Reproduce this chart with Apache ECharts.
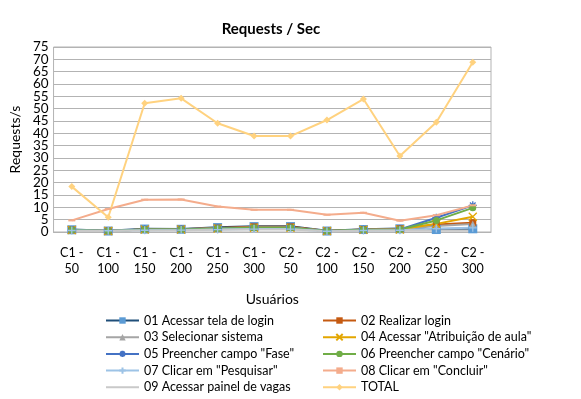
<!DOCTYPE html>
<html>
<head>
<meta charset="utf-8">
<script src="https://cdn.jsdelivr.net/npm/echarts@6/dist/echarts.min.js"></script>
<style>
  html, body { margin: 0; padding: 0; background: #fff; }
  #chart { width: 581px; height: 399px; }
</style>
</head>
<body>
<div id="chart"></div>
<script>
// categorias (eixo X)
const categories = [
    'C1 -\n50', 'C1 -\n100', 'C1 -\n150', 'C1 -\n200', 'C1 -\n250', 'C1 -\n300',
    'C2 -\n50', 'C2 -\n100', 'C2 -\n150', 'C2 -\n200', 'C2 -\n250', 'C2 -\n300'
];

const names = [
    '01 Acessar tela de login',
    '02 Realizar login',
    '03 Selecionar sistema',
    '04 Acessar "Atribuição de aula"',
    '05 Preencher campo "Fase"',
    '06 Preencher campo "Cenário"',
    '07 Clicar em "Pesquisar"',
    '08 Clicar em "Concluir"',
    '09 Acessar painel de vagas',
    'TOTAL'
];

// valores
const s01 = [0.9, 0.4, 1.2, 1.1, 1.8, 2.2, 2.2, 0.4, 1.0, 1.3, 1.0, 1.3];
const s02 = [0.8, 0.4, 1.0, 1.1, 1.6, 2.1, 2.1, 0.4, 1.0, 1.3, 3.0, 3.8];
const s03 = [0.8, 0.4, 1.0, 1.1, 1.5, 1.8, 1.8, 0.4, 0.9, 1.1, 2.4, 3.2];
const s04 = [0.8, 0.4, 1.0, 1.0, 1.4, 1.7, 1.7, 0.4, 0.9, 1.0, 3.3, 6.2];
const s05 = [0.8, 0.4, 1.0, 1.0, 1.4, 1.7, 1.7, 0.4, 0.9, 1.0, 5.8, 10.8];
const s06 = [0.8, 0.4, 1.0, 1.0, 1.4, 1.7, 1.7, 0.4, 0.9, 1.0, 4.7, 9.8];
const s07 = [0.6, 0.5, 0.7, 0.8, 1.0, 1.2, 1.2, 0.3, 0.6, 0.7, 1.4, 1.7];
const s08 = [4.7, 9.3, 13.1, 13.2, 10.3, 9.0, 9.0, 7.0, 7.8, 4.6, 6.8, 10.8];
const s09 = [0.4, 0.4, 0.6, 0.7, 0.9, 1.0, 1.0, 0.3, 0.5, 0.6, 0.6, 0.6];
const sTotal = [18.4, 6.0, 52.2, 54.2, 44.1, 38.9, 38.9, 45.4, 53.9, 30.8, 44.5, 68.8];

// eixo Y
const Y_MIN = 0;
const Y_MAX = 75;
const Y_STEP = 5;

const FONT = 'Lato';

// símbolos em path (x, asterisco, +, traço)
const SYM_X = 'path://M0,0L10,10M10,0L0,10';
const SYM_STAR = 'path://M5,0V10M0,5H10M1.5,1.5L8.5,8.5M8.5,1.5L1.5,8.5';
const SYM_PLUS = 'path://M5,0V10M0,5H10';
const SYM_DASH = 'path://M0,0H10V3H0Z';
const ICON_LINE = 'path://M0,0H33V2H0Z';

const mkSeries = (name, data, lineColor, markColor, symbol, size, width, strokeMark) => ({
    name: name,
    type: 'line',
    data: data,
    yAxisIndex: 0,
    symbol: symbol,
    symbolSize: size,
    showSymbol: symbol !== 'none',
    lineStyle: { color: lineColor, width: width },
    itemStyle: strokeMark
        ? { color: markColor, borderColor: markColor, borderWidth: 1.3 }
        : { color: markColor, borderWidth: 0 },
    emphasis: { disabled: true },
    animation: false
});

const series = [
    mkSeries(names[0], s01, '#1F4E79', '#5B9BD5', 'rect', 9, 2.5, false),
    mkSeries(names[1], s02, '#C55A11', '#C55A11', 'rect', 7, 2, false),
    mkSeries(names[2], s03, '#A5A5A5', '#A5A5A5', 'triangle', 7, 2, false),
    mkSeries(names[3], s04, '#E3A600', '#E3A600', SYM_X, 8, 2, true),
    mkSeries(names[4], s05, '#4472C4', '#4472C4', SYM_STAR, 8, 2, true),
    mkSeries(names[5], s06, '#70AD47', '#70AD47', 'circle', 7, 2, false),
    mkSeries(names[6], s07, '#9DC3E6', '#9DC3E6', SYM_PLUS, 8, 2, true),
    mkSeries(names[7], s08, '#F4AC8C', '#F4AC8C', SYM_DASH, [7, 2], 2, false),
    mkSeries(names[8], s09, '#C9C9C9', '#C9C9C9', 'none', 0, 2, false),
    mkSeries(names[9], sTotal, '#FFD27F', '#FFD27F', 'diamond', 7, 2, false)
];

const legendBase = {
    orient: 'vertical',
    top: 314,
    padding: 0,
    itemWidth: 33,
    itemHeight: 8,
    itemGap: 3.7,
    selectedMode: false,
    textStyle: { fontFamily: FONT, fontSize: 12.5, color: '#000', lineHeight: 13 }
};

const yLabelStyle = { margin: 5, fontFamily: FONT, fontSize: 13.5, color: '#000' };

const myChart = echarts.init(document.getElementById('chart'));

const option = {
    backgroundColor: '#fff',
    textStyle: { fontFamily: FONT },
    title: {
        text: 'Requests / Sec',
        left: 266,
        top: 17,
        textAlign: 'center',
        textStyle: { fontFamily: FONT, fontSize: 15, fontWeight: 'bold', color: '#000' }
    },
    legend: [
        Object.assign({}, legendBase, {
            left: 105,
            data: [names[0], names[2], names[4], names[6], { name: names[8], icon: ICON_LINE }]
        }),
        Object.assign({}, legendBase, {
            left: 322,
            data: [names[1], names[3], names[5], names[7], names[9]]
        })
    ],
    grid: {
        left: 49,
        right: 90,
        top: 47,
        bottom: 167,
        show: true,
        borderColor: '#B3B3B3',
        borderWidth: 1
    },
    xAxis: {
        type: 'category',
        data: categories,
        boundaryGap: true,
        name: 'Usuários',
        nameLocation: 'middle',
        nameGap: 60,
        nameTextStyle: { fontFamily: FONT, fontSize: 14, color: '#000' },
        axisLine: { lineStyle: { color: '#B3B3B3' } },
        axisTick: { show: false },
        axisLabel: {
            interval: 0,
            margin: 13,
            lineHeight: 16,
            fontFamily: FONT,
            fontSize: 12.5,
            color: '#000'
        }
    },
    yAxis: [
        {
            type: 'value',
            min: Y_MIN,
            max: Y_MAX,
            interval: Y_STEP,
            name: 'Requests/s',
            nameLocation: 'middle',
            nameGap: 28,
            nameTextStyle: { fontFamily: FONT, fontSize: 14, color: '#000' },
            axisLine: { show: false },
            axisTick: { show: false },
            axisLabel: Object.assign({ showMinLabel: true, showMaxLabel: true }, yLabelStyle),
            splitLine: { lineStyle: { color: '#B3B3B3', width: 1 } }
        },
        {
            // segundo eixo só para os rótulos 5 e 70, que o primeiro esconde por sobreposição
            type: 'value',
            position: 'left',
            min: Y_MIN,
            max: Y_MAX,
            interval: Y_STEP,
            axisLine: { show: false },
            axisTick: { show: false },
            splitLine: { show: false },
            axisLabel: Object.assign({
                showMinLabel: false,
                showMaxLabel: false,
                formatter: (v) => (v === Y_MIN + Y_STEP || v === Y_MAX - Y_STEP) ? String(v) : ''
            }, yLabelStyle)
        }
    ],
    series: series
};

myChart.setOption(option);
</script>
</body>
</html>
